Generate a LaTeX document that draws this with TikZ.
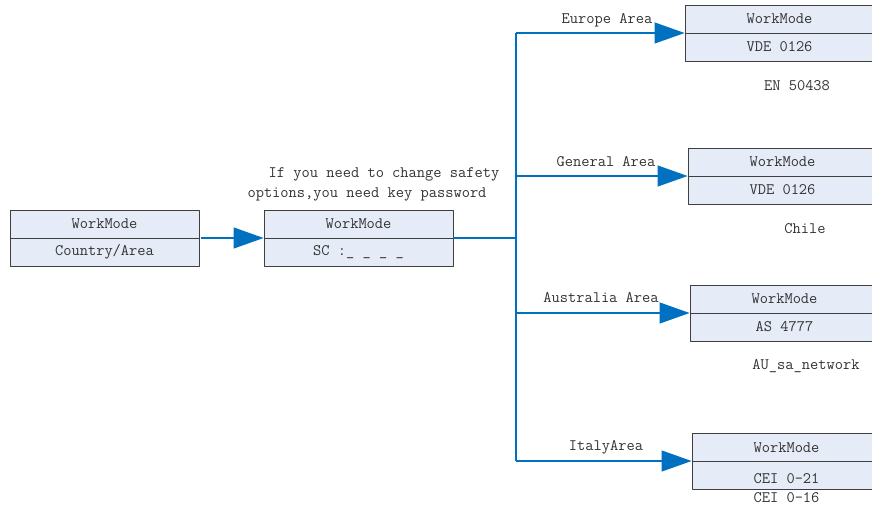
\documentclass[tikz,border=0pt]{standalone}
\usepackage{fontspec}
\usetikzlibrary{arrows.meta}
\definecolor{flowblue}{HTML}{0070C0}
\definecolor{boxfill}{HTML}{E6ECF7}
\definecolor{boxline}{HTML}{3F3F3F}
\definecolor{txtgray}{HTML}{333333}

\begin{document}
\begin{tikzpicture}[x=1pt, y=-1pt, line join=round, text=txtgray, font=\ttfamily\fontsize{16}{18}\selectfont]
\tikzset{
  wm/.style={draw=boxline, line width=0.9pt, fill=boxfill, minimum width=189pt, minimum height=56pt, inner sep=0pt},
  flow/.style={draw=flowblue, line width=1.2pt, -{Triangle[length=30pt,width=21pt]}},
  trunk/.style={draw=flowblue, line width=1.2pt},
  lbl/.style={inner sep=0pt},
}
\useasboundingbox (0,0) rectangle (872,508);
\coordinate (T0) at (516.000,238.000);
\coordinate (TE) at (516.000,33.000);
\coordinate (TG) at (516.000,176.000);
\coordinate (TA) at (516.000,313.000);
\coordinate (TI) at (516.000,461.000);
% boxes
\node[wm] (cty) at (104.500,238.000) {};
\node[wm] (sc) at (358.500,238.000) {};
\node[wm] (eu) at (779.500,33.000) {};
\node[wm] (gen) at (782.500,176.000) {};
\node[wm] (au) at (784.500,313.000) {};
\node[wm] (it) at (786.500,461.000) {};
\draw[boxline, line width=0.9pt] (cty.west) -- (cty.east);
\draw[boxline, line width=0.9pt] (sc.west) -- (sc.east);
\draw[boxline, line width=0.9pt] (eu.west) -- (eu.east);
\draw[boxline, line width=0.9pt] (gen.west) -- (gen.east);
\draw[boxline, line width=0.9pt] (au.west) -- (au.east);
\draw[boxline, line width=0.9pt] (it.west) -- (it.east);
% connectors
\draw[flow] ([xshift=2pt]cty.east) -- (sc.west);
\draw[trunk] (sc.east) -- (T0);
\draw[trunk] (TE) -- (TI);
\draw[flow] (TE) -- (eu.west);
\draw[flow] (TG) -- (gen.west);
\draw[flow] (TA) -- (au.west);
\draw[flow] (TI) -- (it.west);
% texts
\node[lbl] (cty1) at (104.500,224.000) {WorkMode};
\node[lbl] (cty2) at (104.500,252.000) {Country/Area};
\node[lbl] (sc1) at (358.500,224.000) {WorkMode};
\node[lbl] (sc2) at (358.500,252.000) {SC :\_ \_ \_ \_};
\node[lbl] (eu1) at (779.500,19.000) {WorkMode};
\node[lbl] (eu2) at (779.500,47.000) {VDE 0126};
\node[lbl] (gen1) at (782.500,162.000) {WorkMode};
\node[lbl] (gen2) at (782.500,190.000) {VDE 0126};
\node[lbl] (au1) at (784.500,299.000) {WorkMode};
\node[lbl] (au2) at (784.500,327.000) {AS 4777};
\node[lbl] (it1) at (786.500,448.000) {WorkMode};
\node[lbl] (it2) at (786.500,479.000) {CEI 0-21};
\node[lbl] (it3) at (786.500,498.000) {CEI 0-16};
\node[lbl] (euL) at (607.000,20.000) {Europe Area};
\node[lbl] (genL) at (606.000,162.000) {General Area};
\node[lbl] (auL) at (601.000,298.000) {Australia Area};
\node[lbl] (itL) at (606.000,447.000) {ItalyArea};
\node[lbl] (euN) at (797.000,86.000) {EN 50438};
\node[lbl] (genN) at (805.000,229.000) {Chile};
\node[lbl] (auN) at (806.000,366.000) {AU\_sa\_network};
\node[lbl] (note1) at (384.000,174.000) {If you need to change safety};
\node[lbl] (note2) at (367.000,194.000) {options,you need key password};
\end{tikzpicture}
\end{document}
